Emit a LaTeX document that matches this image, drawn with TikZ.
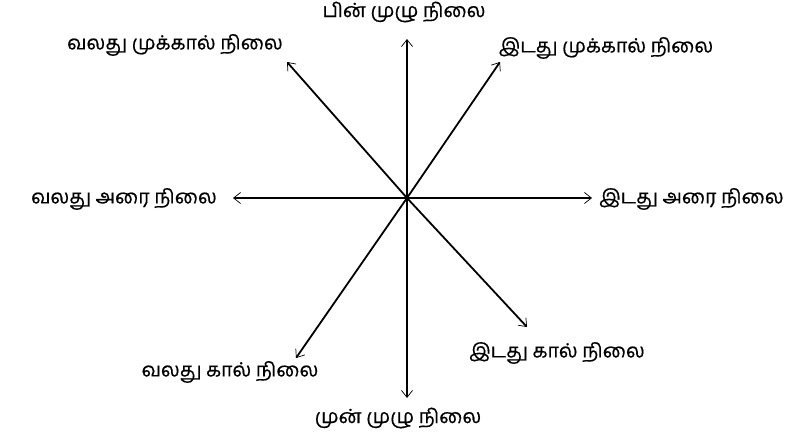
\documentclass[tikz,border=0pt]{standalone}
\usepackage{fontspec}
\newfontfamily\tamilfont[Script=Tamil,FakeBold=0.6]{Hind Madurai}
\usetikzlibrary{arrows.meta}

\tikzset{
  posarrow/.style={line width=1.8pt,-{Straight Barb[length=7pt,width=11pt,line width=0.7pt]}},
  poslabel/.style={font=\tamilfont\fontsize{19.5}{22}\selectfont,inner sep=1pt}
}

\begin{document}
\begin{tikzpicture}[x=1pt,y=1pt]
    \useasboundingbox (0,0) rectangle (802,440);
    % centre and arrow ends
    \coordinate (o) at (407,242);
    \coordinate (tback) at (407,401);
    \coordinate (tfront) at (407,42);
    \coordinate (tlefthalf) at (233,242);
    \coordinate (trighthalf) at (592,242);
    \coordinate (tleftthree) at (287,378);
    \coordinate (trightthree) at (500,378);
    \coordinate (tleftquarter) at (296,82);
    \coordinate (trightquarter) at (527,113);
    % labels
    \node[poslabel] (back) at (404,428) {பின் முழு நிலை};
    \node[poslabel] (front) at (398,22) {முன் முழு நிலை};
    \node[poslabel,anchor=east] (lefthalf) at (218,241) {வலது அரை நிலை};
    \node[poslabel,anchor=west] (righthalf) at (598,241) {இடது அரை நிலை};
    \node[poslabel] (leftthree) at (175,395) {வலது முக்கால் நிலை};
    \node[poslabel] (rightthree) at (606,392) {இடது முக்கால் நிலை};
    \node[poslabel] (leftquarter) at (230,68) {வலது கால் நிலை};
    \node[poslabel] (rightquarter) at (557,87) {இடது கால் நிலை};
    % arrows
    \foreach \t in {tback,tfront,tlefthalf,trighthalf,tleftthree,trightthree,tleftquarter,trightquarter} {
      \draw[posarrow] (o) -- (\t);
    }
\end{tikzpicture}
\end{document}
